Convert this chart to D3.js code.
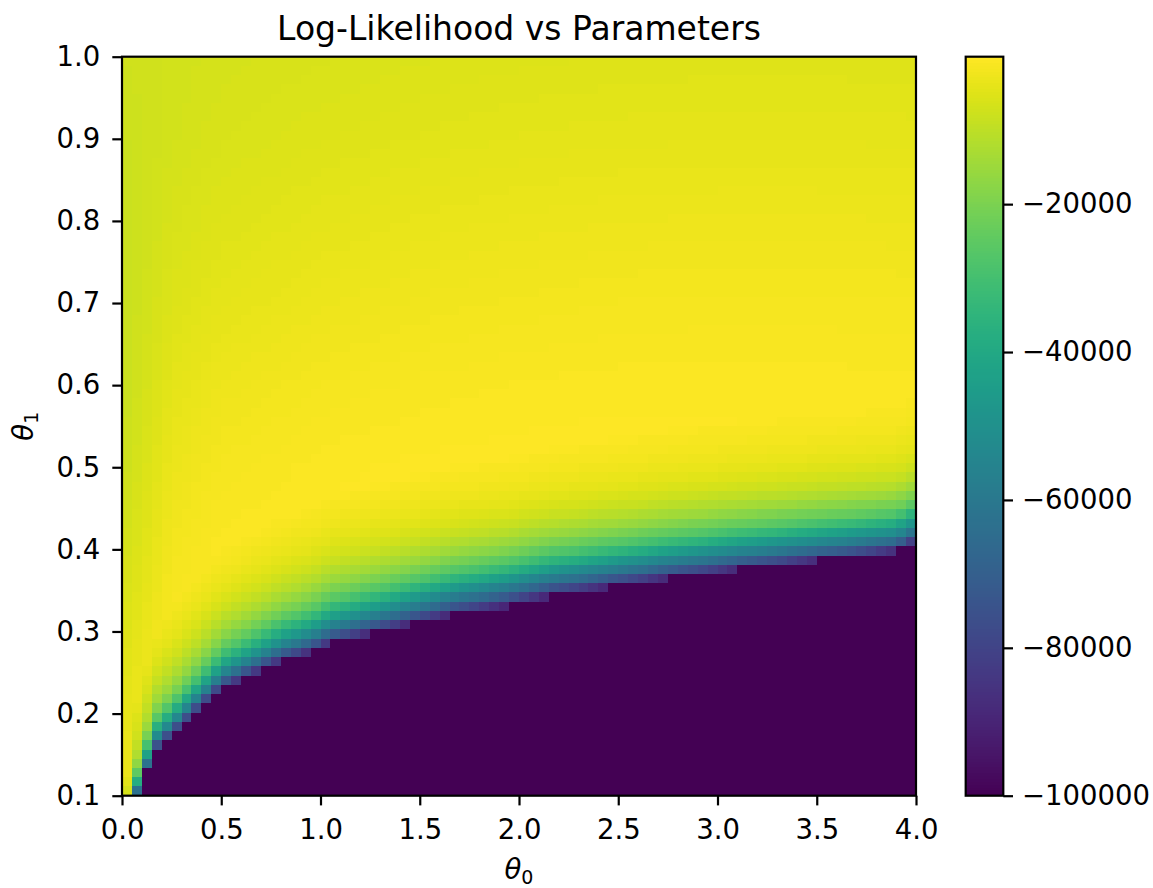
<!DOCTYPE html>
<html>
<head>
<meta charset="utf-8">
<script src="https://cdn.jsdelivr.net/npm/d3@7"></script>
<style>
  body { margin: 0; background: #ffffff; }
  text { font-family: "DejaVu Sans", sans-serif; fill: #000000; }
</style>
</head>
<body>
<div id="chart"></div>
<script>
// heatmap grid: 80 x 80 cells over theta0 in [0,4] and theta1 in [0.1,1.0]
var theta0Range = [0, 4];
var theta1Range = [0.1, 1.0];
var nCols = 80, nRows = 80;

var xTicks = [0, 0.5, 1, 1.5, 2, 2.5, 3, 3.5, 4];
var yTicks = [0.1, 0.2, 0.3, 0.4, 0.5, 0.6, 0.7, 0.8, 0.9, 1.0];
var cbTicks = [-20000, -40000, -60000, -80000, -100000];
var vMin = -100000, vMax = -60;

// number of cells (from the bottom) clipped at -100000, one entry per column
var darkRows = [0, 0, 3, 5, 6, 7, 8, 9, 10, 11, 12, 12, 13, 13, 14, 14, 15, 15, 15, 16,
  16, 17, 17, 17, 17, 18, 18, 18, 18, 19, 19, 19, 19, 20, 20, 20, 20, 20, 20, 21,
  21, 21, 21, 22, 22, 22, 22, 22, 22, 23, 23, 23, 23, 23, 23, 24, 24, 24, 24, 24,
  24, 24, 25, 25, 25, 25, 25, 25, 25, 25, 26, 26, 26, 26, 26, 26, 26, 26, 27, 27];

// values of the cells right above the dark edge (row 0 = first cell above), read at a few columns
var bandCols = [0, 1, 3, 10, 20, 40, 79];
var bandRows = [
  [-7000, -5000, -3500, -2500, -1800, -1200, -800, 0, 0, 0, 0, 0, 0, 0, 0, 0],
  [-50000, -34000, -22000, -15000, -11000, -8500, -7000, -6000, -5000, -4000, -3000, -2000, -1000, 0, 0, 0],
  [-75000, -52000, -37000, -26000, -19000, -14500, -11500, -9000, -7000, -5500, -4200, -3200, -2400, -1700, -1000, 0],
  [-78000, -58000, -44000, -33000, -25000, -19000, -14500, -11000, -8300, -6200, -4600, -3400, -2500, -1700, -1100, -600],
  [-78000, -61000, -48000, -37000, -28000, -21500, -16500, -12500, -9500, -7200, -5400, -4000, -3000, -2200, -1500, -900],
  [-82000, -65000, -53000, -40000, -30000, -23000, -17000, -13000, -9500, -7000, -5000, -3800, -2800, -2000, -1400, -900],
  [-74000, -57000, -45000, -32000, -23000, -18000, -13000, -9500, -7000, -5200, -4000, -3000, -2300, -1700, -1200, -800]
];

// the smooth yellow part of the surface, read on a coarse grid
var fieldTheta0 = [0, 0.25, 0.5, 1, 1.5, 2, 2.5, 3, 3.5, 4];
var fieldTheta1 = [0.1, 0.2, 0.3, 0.4, 0.5, 0.6, 0.7, 0.8, 0.9, 1.0];
var fieldVals = [
  [-3500, -800, -800, -800, -800, -800, -800, -800, -800, -800],
  [-4000, -500, -300, -300, -300, -300, -300, -300, -300, -300],
  [-5500, -900, -300, -200, -200, -200, -200, -200, -200, -200],
  [-7000, -1800, -600, -200, -100, -100, -150, -200, -300, -400],
  [-8000, -3000, -1500, -600, -300, -200, -150, -200, -300, -400],
  [-8500, -4200, -2700, -1600, -1100, -800, -600, -600, -600, -700],
  [-8500, -5300, -4100, -2900, -2300, -1900, -1600, -1500, -1500, -1600],
  [-8500, -6100, -5100, -4100, -3500, -3100, -2800, -2700, -2700, -2800],
  [-8000, -6800, -6000, -5200, -4700, -4300, -4100, -4000, -4000, -4100],
  [-7500, -7000, -6500, -6000, -5600, -5300, -5100, -5000, -5000, -5100]
];

var plotLeft = 122, plotRight = 916, plotTop = 56.7, plotBottom = 795.7;
var cbLeft = 965.7, cbRight = 1003.3;

var svg = d3.select("#chart")
  .append("svg")
  .attr("width", 1153)
  .attr("height", 888);

var x = d3.scaleLinear().domain(theta0Range).range([plotLeft, plotRight]);
var y = d3.scaleLinear().domain(theta1Range).range([plotBottom, plotTop]);
var color = d3.scaleSequential(d3.interpolateViridis).domain([vMin, vMax]);

function lerp(a, b, w) { return a + (b - a) * w; }

// band profile for a column, blended from the two nearest read columns
function profileAt(c) {
  var j = 0;
  while (j < bandCols.length - 2 && c > bandCols[j + 1]) j++;
  var w = (c - bandCols[j]) / (bandCols[j + 1] - bandCols[j]);
  return bandRows[j].map(function (v, k) { return lerp(v, bandRows[j + 1][k], w); });
}

function sampleProfile(prof, pos) {
  if (pos < 0) return lerp(vMin, prof[0], pos + 1);
  if (pos >= prof.length - 1) return prof[prof.length - 1] > -1 ? 0 : lerp(prof[prof.length - 1], 0, Math.min(1, pos - prof.length + 1));
  var k = Math.floor(pos);
  return lerp(prof[k], prof[k + 1], pos - k);
}

function fieldAt(t0, t1) {
  var i = Math.min(Math.max(d3.bisectRight(fieldTheta0, t0) - 1, 0), fieldTheta0.length - 2);
  var j = Math.min(Math.max(d3.bisectRight(fieldTheta1, t1) - 1, 0), fieldTheta1.length - 2);
  var wi = (t0 - fieldTheta0[i]) / (fieldTheta0[i + 1] - fieldTheta0[i]);
  var wj = (t1 - fieldTheta1[j]) / (fieldTheta1[j + 1] - fieldTheta1[j]);
  var a = lerp(fieldVals[j][i], fieldVals[j][i + 1], wi);
  var b = lerp(fieldVals[j + 1][i], fieldVals[j + 1][i + 1], wi);
  return lerp(a, b, wj);
}

var dx = (theta0Range[1] - theta0Range[0]) / nCols;
var dy = (theta1Range[1] - theta1Range[0]) / nRows;

function cellValue(c, r) {
  var n = darkRows[c];
  if (r < n) return vMin;
  // where the column sits inside its step of the staircase
  var s = c, e = c;
  while (s > 0 && darkRows[s - 1] === n) s--;
  while (e < nCols - 1 && darkRows[e + 1] === n) e++;
  var frac = (c - s + 0.5) / (e - s + 1);
  var band = sampleProfile(profileAt(c), (r - n) + 0.5 - frac);
  var f = fieldAt(theta0Range[0] + (c + 0.5) * dx, theta1Range[0] + (r + 0.5) * dy);
  return Math.max(vMin, Math.min(f, band));
}

var cells = [];
for (var c = 0; c < nCols; c++) {
  for (var r = 0; r < nRows; r++) {
    cells.push({t0: theta0Range[0] + c * dx, t1: theta1Range[0] + r * dy, v: cellValue(c, r)});
  }
}

// heatmap
svg.append("g")
  .selectAll("rect")
  .data(cells)
  .enter()
  .append("rect")
  .attr("x", function (d) { return x(d.t0); })
  .attr("y", function (d) { return y(d.t1 + dy); })
  .attr("width", function (d) { return x(d.t0 + dx) - x(d.t0); })
  .attr("height", function (d) { return y(d.t1) - y(d.t1 + dy); })
  .attr("fill", function (d) { return color(d.v); })
  .attr("shape-rendering", "crispEdges");

// frame of the axes
svg.append("rect")
  .attr("x", plotLeft).attr("y", plotTop)
  .attr("width", plotRight - plotLeft).attr("height", plotBottom - plotTop)
  .attr("fill", "none").attr("stroke", "#000").attr("stroke-width", 2.2);

function styleAxis(g) {
  g.select(".domain").remove();
  g.selectAll(".tick line").attr("stroke", "#000").attr("stroke-width", 2.2);
  g.attr("font-family", "DejaVu Sans, sans-serif").attr("font-size", 27.5);
  g.selectAll(".tick text").attr("fill", "#000");
}

// x axis
svg.append("g")
  .attr("transform", "translate(0," + plotBottom + ")")
  .call(d3.axisBottom(x).tickValues(xTicks).tickFormat(d3.format(".1f")).tickSize(9.7).tickPadding(14))
  .call(styleAxis);

// y axis
svg.append("g")
  .attr("transform", "translate(" + plotLeft + ",0)")
  .call(d3.axisLeft(y).tickValues(yTicks).tickFormat(d3.format(".1f")).tickSize(9.7).tickPadding(12))
  .call(styleAxis);

// title
svg.append("text")
  .attr("x", (plotLeft + plotRight) / 2)
  .attr("y", 40)
  .attr("text-anchor", "middle")
  .attr("font-size", 33)
  .text("Log-Likelihood vs Parameters");

// axis labels
var xLabel = svg.append("text")
  .attr("x", (plotLeft + plotRight) / 2)
  .attr("y", 879)
  .attr("text-anchor", "middle")
  .attr("font-size", 27.5);
xLabel.append("tspan").attr("font-style", "italic").text("θ");
xLabel.append("tspan").attr("font-size", 19).attr("dy", 5).text("0");

var yLabel = svg.append("text")
  .attr("transform", "translate(33," + (plotTop + plotBottom) / 2 + ") rotate(-90)")
  .attr("text-anchor", "middle")
  .attr("font-size", 27.5);
yLabel.append("tspan").attr("font-style", "italic").text("θ");
yLabel.append("tspan").attr("font-size", 19).attr("dy", 5).text("1");

// colorbar
var cbY = d3.scaleLinear().domain([vMin, vMax]).range([plotBottom, plotTop]);
var cbSteps = d3.range(256).map(function (i) { return vMin + (vMax - vMin) * i / 256; });
var cbStep = (vMax - vMin) / 256;
svg.append("g")
  .selectAll("rect")
  .data(cbSteps)
  .enter()
  .append("rect")
  .attr("x", cbLeft)
  .attr("width", cbRight - cbLeft)
  .attr("y", function (d) { return cbY(d + cbStep); })
  .attr("height", function (d) { return cbY(d) - cbY(d + cbStep) + 0.5; })
  .attr("fill", function (d) { return color(d + cbStep / 2); })
  .attr("shape-rendering", "crispEdges");

svg.append("rect")
  .attr("x", cbLeft).attr("y", plotTop)
  .attr("width", cbRight - cbLeft).attr("height", plotBottom - plotTop)
  .attr("fill", "none").attr("stroke", "#000").attr("stroke-width", 2.2);

svg.append("g")
  .attr("transform", "translate(" + cbRight + ",0)")
  .call(d3.axisRight(cbY).tickValues(cbTicks).tickFormat(d3.format("d")).tickSize(9.7).tickPadding(9))
  .call(styleAxis);
</script>
</body>
</html>
